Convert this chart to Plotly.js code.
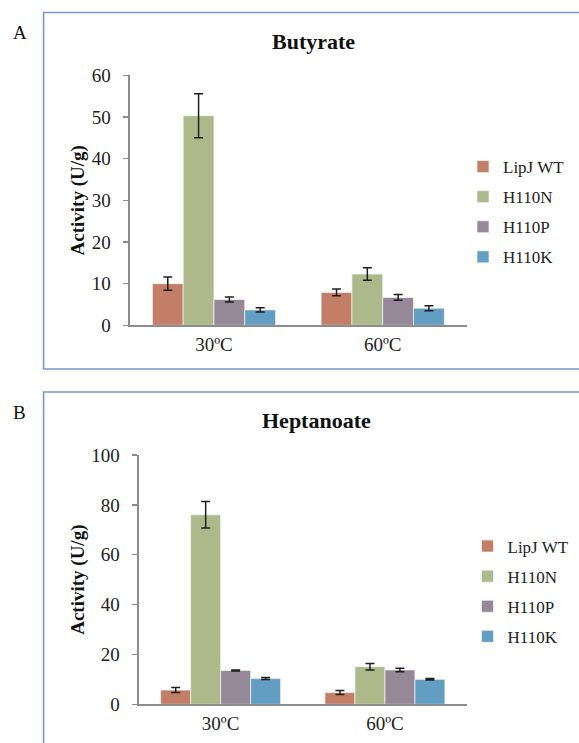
<!DOCTYPE html>
<html>
<head>
<meta charset="utf-8">
<script src="https://cdn.plot.ly/plotly-3.0.1.min.js"></script>
<style>
  html, body { margin: 0; padding: 0; background: #ffffff; }
  #chart { width: 579px; height: 743px; }
</style>
</head>
<body>
<div id="chart"></div>
<script>
// Lipase activity (U/g) of LipJ wild type and H110 mutants at two temperatures
const temperatures = ['30ºC', '60ºC'];
const seriesNames = ['LipJ WT', 'H110N', 'H110P', 'H110K'];
const seriesColors = ['#C27E66', '#ADB88B', '#968899', '#629DC2'];

// Butyrate substrate: mean activity and error per series, [30ºC, 60ºC]
const butyrateWT = [10.0, 7.9];
const butyrateN = [50.3, 12.3];
const butyrateP = [6.2, 6.7];
const butyrateK = [3.7, 4.1];
const butyrateWTErr = [1.6, 0.8];
const butyrateNErr = [5.3, 1.5];
const butyratePErr = [0.6, 0.7];
const butyrateKErr = [0.5, 0.6];

// Heptanoate substrate
const heptanoateWT = [5.7, 4.7];
const heptanoateN = [76.0, 15.1];
const heptanoateP = [13.6, 13.8];
const heptanoateK = [10.3, 10.0];
const heptanoateWTErr = [1.0, 0.8];
const heptanoateNErr = [5.3, 1.3];
const heptanoatePErr = [0.2, 0.7];
const heptanoateKErr = [0.4, 0.3];

const butyrateValues = [butyrateWT, butyrateN, butyrateP, butyrateK];
const butyrateErrors = [butyrateWTErr, butyrateNErr, butyratePErr, butyrateKErr];
const heptanoateValues = [heptanoateWT, heptanoateN, heptanoateP, heptanoateK];
const heptanoateErrors = [heptanoateWTErr, heptanoateNErr, heptanoatePErr, heptanoateKErr];

const W = 579, H = 743;
const px = v => v / W;          // horizontal pixel -> paper fraction
const py = v => 1 - v / H;      // vertical pixel (from top) -> paper fraction

const serif = 'Liberation Serif';
const axisGrey = '#8c8c8c';

function makeTraces(values, errors, xa, ya, legendId, groupPrefix) {
  return seriesNames.map((name, i) => ({
    type: 'bar',
    name: name,
    x: temperatures,
    y: values[i],
    xaxis: xa,
    yaxis: ya,
    legend: legendId,
    legendgroup: groupPrefix + i,
    marker: { color: seriesColors[i], line: { color: 'rgba(245,245,240,0.9)', width: 0.8 } },
    error_y: { type: 'data', array: errors[i], visible: true, color: '#1f1f1f', thickness: 1.5, width: 4.5 },
    hoverinfo: 'x+y+name'
  }));
}

const traces = [
  ...makeTraces(butyrateValues, butyrateErrors, 'x', 'y', 'legend', 'a'),
  ...makeTraces(heptanoateValues, heptanoateErrors, 'x2', 'y2', 'legend2', 'b')
];

function yAxis(domain, range, dtick, anchor) {
  return {
    domain: domain, range: range, dtick: dtick, anchor: anchor,
    showline: true, linecolor: axisGrey, linewidth: 2,
    ticks: 'outside', ticklen: 5, tickwidth: 1.5, tickcolor: axisGrey,
    ticklabelstandoff: 8,
    showgrid: false, zeroline: false, fixedrange: true,
    tickfont: { family: serif, size: 19, color: '#222222' },
    title: { text: '<b>Activity (U/g)</b>', standoff: 2,
             font: { family: serif, size: 19, color: '#111111' } }
  };
}

function xAxis(domain, anchor) {
  return {
    domain: domain, anchor: anchor, type: 'category',
    showline: true, linecolor: axisGrey, linewidth: 2,
    ticks: '', showgrid: false, zeroline: false, fixedrange: true,
    ticklabelstandoff: 1,
    tickfont: { family: serif, size: 19, color: '#222222' }
  };
}

function legendBox(x, yTop) {
  return {
    x: x, y: yTop, xanchor: 'left', yanchor: 'top',
    traceorder: 'grouped', tracegroupgap: 5,
    bgcolor: 'rgba(0,0,0,0)', borderwidth: 0,
    font: { family: serif, size: 17, color: '#222222' }
  };
}

const frameColor = '#7a98c6';

const layout = {
  width: W, height: H,
  margin: { l: 0, r: 0, t: 0, b: 0 },
  paper_bgcolor: '#ffffff', plot_bgcolor: '#ffffff',
  barmode: 'group', bargap: 0.27, bargroupgap: 0,
  showlegend: true,
  xaxis: xAxis([px(129.6), px(467.1)], 'y'),
  yaxis: yAxis([py(325.3), py(75.3)], [0, 60], 10, 'x'),
  xaxis2: xAxis([px(138.5), px(467.1)], 'y2'),
  yaxis2: yAxis([py(704.3), py(455)], [0, 100], 20, 'x2'),
  legend: legendBox(px(463), py(149)),
  legend2: legendBox(px(467.5), py(528.5)),
  shapes: [
    { type: 'rect', xref: 'paper', yref: 'paper',
      x0: px(43.6), x1: 1.1, y0: py(369), y1: py(12.5),
      line: { color: frameColor, width: 1.6 }, fillcolor: 'rgba(0,0,0,0)', layer: 'below' },
    { type: 'rect', xref: 'paper', yref: 'paper',
      x0: px(43.6), x1: 1.1, y0: -0.1, y1: py(392),
      line: { color: frameColor, width: 1.6 }, fillcolor: 'rgba(0,0,0,0)', layer: 'below' }
  ],
  annotations: [
    { text: '<b>Butyrate</b>', xref: 'paper', yref: 'paper', x: px(313), y: py(41.7),
      xanchor: 'center', yanchor: 'middle', showarrow: false,
      font: { family: serif, size: 22, color: '#111111' } },
    { text: '<b>Heptanoate</b>', xref: 'paper', yref: 'paper', x: px(316.5), y: py(420.7),
      xanchor: 'center', yanchor: 'middle', showarrow: false,
      font: { family: serif, size: 22, color: '#111111' } },
    { text: 'A', xref: 'paper', yref: 'paper', x: px(20.3), y: py(32.3),
      xanchor: 'center', yanchor: 'middle', showarrow: false,
      font: { family: serif, size: 19, color: '#111111' } },
    { text: 'B', xref: 'paper', yref: 'paper', x: px(19.8), y: py(412.3),
      xanchor: 'center', yanchor: 'middle', showarrow: false,
      font: { family: serif, size: 19, color: '#111111' } }
  ]
};

Plotly.newPlot('chart', traces, layout, { staticPlot: true, displayModeBar: false });
</script>
</body>
</html>
